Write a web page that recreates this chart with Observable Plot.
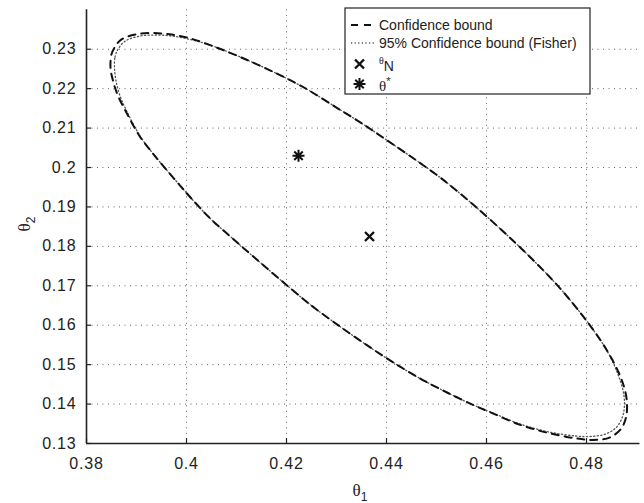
<!DOCTYPE html>
<html><head><meta charset="utf-8">
<script src="https://cdn.jsdelivr.net/npm/d3@7"></script>
<script src="https://cdn.jsdelivr.net/npm/@observablehq/plot@0.6"></script>
<style>body{margin:0;background:#fff;} #chart svg{display:block}</style>
</head><body><div id="chart"></div>
<script>
// Confidence bound (dashed), going round the contour
const boundTheta1 = [0.3848,0.3850,0.3856,0.3870,0.3900,0.3933,0.3966,0.4000,0.4046,0.4106,0.4166,0.4214,0.4247,0.4300,0.4353,0.4400,0.4453,0.4507,0.4527,0.4576,0.4646,0.4713,0.4753,0.4793,0.4829,0.4850,0.4866,0.4877,0.4881,0.4879,0.4869,0.4846,0.4813,0.4779,0.4726,0.4666,0.4606,0.4573,0.4520,0.4467,0.4413,0.4360,0.4310,0.4260,0.4234,0.4187,0.4141,0.4094,0.4048,0.4008,0.3988,0.3948,0.3930,0.3906,0.3880,0.3863,0.3853];
const boundTheta2 = [0.2253,0.2287,0.2304,0.2325,0.2338,0.2341,0.2338,0.2330,0.2311,0.2281,0.2247,0.2217,0.2194,0.2152,0.2110,0.2070,0.2024,0.1975,0.1955,0.1903,0.1823,0.1740,0.1685,0.1623,0.1560,0.1516,0.1475,0.1435,0.1400,0.1366,0.1337,0.1315,0.1309,0.1313,0.1326,0.1348,0.1380,0.1398,0.1430,0.1465,0.1506,0.1550,0.1594,0.1640,0.1666,0.1716,0.1766,0.1818,0.1870,0.1924,0.1953,0.2012,0.2040,0.2080,0.2139,0.2182,0.2220];
// 95% Confidence bound (Fisher) (dotted)
const fisherTheta1 = [0.3856,0.3857,0.3864,0.3878,0.3905,0.3935,0.3968,0.4000,0.4046,0.4106,0.4166,0.4214,0.4247,0.4300,0.4353,0.4400,0.4453,0.4507,0.4527,0.4576,0.4646,0.4713,0.4753,0.4793,0.4829,0.4849,0.4863,0.4873,0.4876,0.4872,0.4859,0.4838,0.4810,0.4779,0.4726,0.4666,0.4606,0.4573,0.4520,0.4467,0.4413,0.4360,0.4310,0.4260,0.4234,0.4187,0.4141,0.4094,0.4048,0.4008,0.3988,0.3948,0.3930,0.3907,0.3882,0.3867,0.3859];
const fisherTheta2 = [0.2253,0.2280,0.2302,0.2321,0.2333,0.2336,0.2334,0.2327,0.2311,0.2281,0.2247,0.2217,0.2194,0.2152,0.2110,0.2070,0.2024,0.1975,0.1955,0.1903,0.1823,0.1740,0.1685,0.1623,0.1560,0.1516,0.1475,0.1435,0.1400,0.1368,0.1340,0.1324,0.1318,0.1319,0.1329,0.1350,0.1381,0.1398,0.1430,0.1465,0.1506,0.1550,0.1594,0.1640,0.1666,0.1716,0.1766,0.1818,0.1870,0.1924,0.1953,0.2012,0.2040,0.2080,0.2139,0.2182,0.2220];
// Point estimates
const pointNames = ["thetaN", "thetaStar"];
const pointTheta1 = [0.4366, 0.4224];
const pointTheta2 = [0.1825, 0.2030];
// Axes
const xTicks = [0.38, 0.40, 0.42, 0.44, 0.46, 0.48];
const yTicks = [0.13, 0.14, 0.15, 0.16, 0.17, 0.18, 0.19, 0.20, 0.21, 0.22, 0.23];
const xDomain = [0.38, 0.4907];
const yDomain = [0.13, 0.24];
const legendLabels = ["Confidence bound", "95% Confidence bound (Fisher)"];

const bound = boundTheta1.map((t, i) => ({t1: t, t2: boundTheta2[i]}));
const fisher = fisherTheta1.map((t, i) => ({t1: t, t2: fisherTheta2[i]}));
const points = pointNames.map((n, i) => ({name: n, t1: pointTheta1[i], t2: pointTheta2[i]}));

const timesSym = {draw(ctx, size) { const r = Math.sqrt(size / Math.PI); ctx.moveTo(-r, -r); ctx.lineTo(r, r); ctx.moveTo(-r, r); ctx.lineTo(r, -r); }};
const asteriskSym = {draw(ctx, size) { const r = Math.sqrt(size / Math.PI); const d = r * Math.SQRT1_2;
  ctx.moveTo(-r, 0); ctx.lineTo(r, 0); ctx.moveTo(0, -r); ctx.lineTo(0, r);
  ctx.moveTo(-d, -d); ctx.lineTo(d, d); ctx.moveTo(-d, d); ctx.lineTo(d, -d); }};

const W = 644, H = 503, mT = 9.3, mB = 60, mL = 86, mR = 4.5;
const gridStyle = {stroke: "#666", strokeOpacity: 1, strokeWidth: 1, strokeDasharray: "1,4.5"};
const fmt = d => String(d);

const chart = Plot.plot({
  width: W, height: H,
  marginTop: mT, marginBottom: mB, marginLeft: mL, marginRight: mR,
  x: {domain: xDomain}, y: {domain: yDomain},
  style: {fontFamily: "'Liberation Sans', Arial, sans-serif", fontSize: "16px", color: "#222", background: "white"},
  marks: [
    Plot.gridX(xTicks.slice(1), gridStyle),
    Plot.gridY(yTicks.slice(1), gridStyle),
    Plot.line(fisher, {x: "t1", y: "t2", curve: "catmull-rom-closed", stroke: "#555", strokeWidth: 1.3, strokeDasharray: "1.2,2.4"}),
    Plot.line(bound, {x: "t1", y: "t2", curve: "catmull-rom-closed", stroke: "#111", strokeWidth: 2, strokeDasharray: "7,6"}),
    Plot.dot(points.filter(d => d.name === "thetaN"), {x: "t1", y: "t2", r: 4.5, symbol: timesSym, stroke: "#111", strokeWidth: 2.4}),
    Plot.dot(points.filter(d => d.name === "thetaStar"), {x: "t1", y: "t2", r: 6, symbol: asteriskSym, stroke: "#111", strokeWidth: 2}),
    Plot.tickX(xTicks, {x: d => d, stroke: "#222", strokeWidth: 1.2, insetTop: H - mT - mB - 5}),
    Plot.tickY(yTicks, {y: d => d, stroke: "#222", strokeWidth: 1.2, insetRight: W - mL - mR - 5}),
    Plot.ruleX([xDomain[0]], {stroke: "#222", strokeWidth: 1.6}),
    Plot.ruleY([yDomain[0]], {stroke: "#222", strokeWidth: 1.6}),
    Plot.axisX({ticks: xTicks, tickSize: 0, tickPadding: 14, tickFormat: fmt, label: null, fill: "#222"}),
    Plot.axisY({ticks: yTicks, tickSize: 0, tickPadding: 10, tickFormat: fmt, label: null, fill: "#222"})
  ]
});
document.getElementById("chart").append(chart);

const svg = d3.select(chart);
svg.selectAll("g[aria-label='x-axis tick label'] text, g[aria-label='y-axis tick label'] text").style("letter-spacing", "0.8px");

// Axis titles
const xl = svg.append("text").attr("x", 360).attr("y", 496).attr("text-anchor", "middle").attr("fill", "#222");
xl.append("tspan").attr("font-family", "'Liberation Serif', serif").attr("font-size", 17).text("θ");
xl.append("tspan").attr("font-family", "'Liberation Sans', sans-serif").attr("font-size", 12).attr("dy", 5).text("1");
const yl = svg.append("text").attr("transform", "translate(30,224) rotate(-90)").attr("text-anchor", "middle").attr("fill", "#222");
yl.append("tspan").attr("font-family", "'Liberation Serif', serif").attr("font-size", 17).text("θ");
yl.append("tspan").attr("font-family", "'Liberation Sans', sans-serif").attr("font-size", 12).attr("dy", 5).text("2");

// Legend
const lg = svg.append("g").attr("font-family", "'Liberation Sans', Arial, sans-serif").attr("font-size", 14).attr("fill", "#222").attr("text-anchor", "start");
lg.append("rect").attr("x", 345).attr("y", 8).attr("width", 245).attr("height", 86).attr("fill", "white").attr("stroke", "#222").attr("stroke-width", 1.2);
lg.append("line").attr("x1", 351).attr("x2", 375).attr("y1", 25).attr("y2", 25).attr("stroke", "#111").attr("stroke-width", 2).attr("stroke-dasharray", "7,6");
lg.append("line").attr("x1", 351).attr("x2", 375).attr("y1", 43).attr("y2", 43).attr("stroke", "#555").attr("stroke-width", 1.3).attr("stroke-dasharray", "1.2,2.4");
lg.append("text").attr("x", 379).attr("y", 25).attr("dy", "0.35em").text(legendLabels[0]);
lg.append("text").attr("x", 379).attr("y", 43).attr("dy", "0.35em").text(legendLabels[1]);
lg.append("path").attr("transform", "translate(359.5,64)").attr("d", d3.symbol(timesSym, 4.5 * 4.5 * Math.PI)()).attr("stroke", "#111").attr("stroke-width", 2.4).attr("fill", "none");
lg.append("path").attr("transform", "translate(359.5,84)").attr("d", d3.symbol(asteriskSym, 6 * 6 * Math.PI)()).attr("stroke", "#111").attr("stroke-width", 2).attr("fill", "none");
const tN = lg.append("text").attr("x", 379).attr("y", 71);
tN.append("tspan").attr("font-family", "'Liberation Serif', serif").attr("font-size", 10).attr("dy", -7).text("θ");
tN.append("tspan").attr("dy", 7).text("N");
const tS = lg.append("text").attr("x", 379).attr("y", 90.5);
tS.append("tspan").attr("font-family", "'Liberation Serif', serif").attr("font-size", 15).text("θ");
tS.append("tspan").attr("font-size", 11).attr("dy", -6).text("*");
</script>
</body></html>
